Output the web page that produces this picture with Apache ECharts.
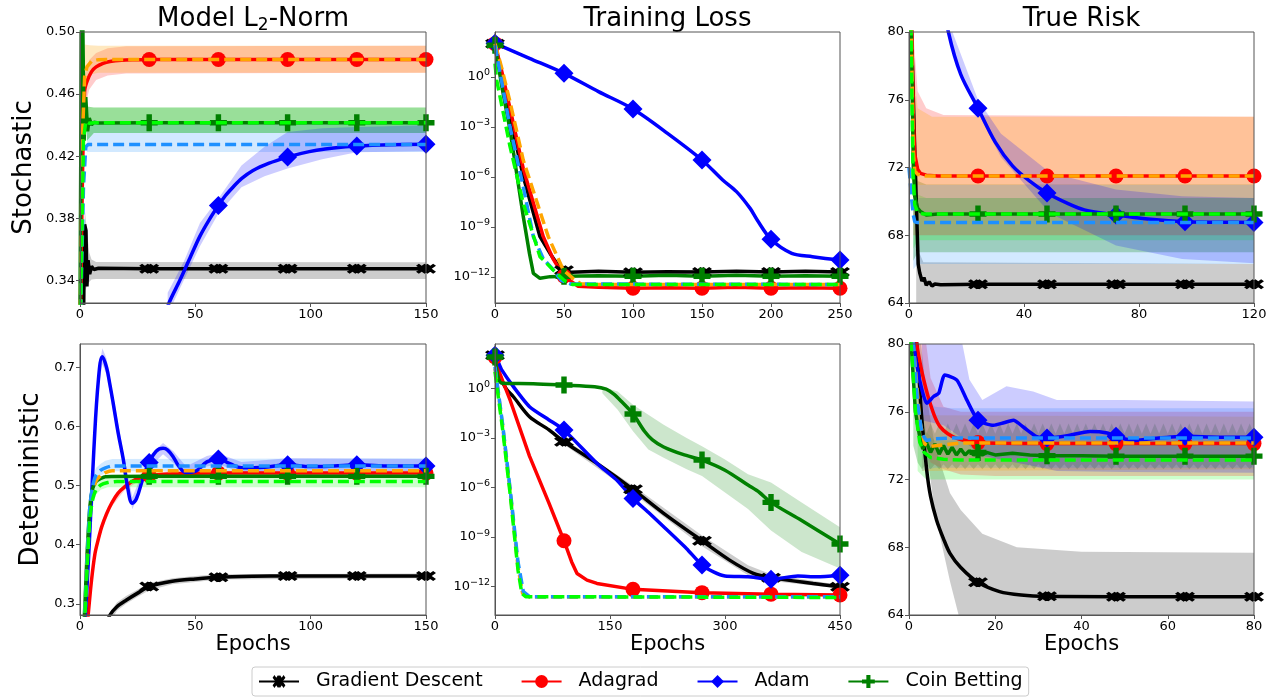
<!DOCTYPE html>
<html><head><meta charset="utf-8">
<script src="https://cdn.jsdelivr.net/npm/echarts@6/dist/echarts.min.js"></script>
<style>html,body{margin:0;padding:0;background:#fff}#c{width:1278px;height:700px}</style>
</head><body><div id="c"></div><script>
// ---------- tick labels / marker epochs ----------
const normTicksS = [0.34, 0.38, 0.42, 0.46, 0.50];
const normTicksD = [0.3, 0.4, 0.5, 0.6, 0.7];
const lossTicks = [1e-12, 1e-9, 1e-6, 1e-3, 1];
const marksNormS = [30, 60, 90, 120, 150];
const marksLossS = [0, 50, 100, 150, 200, 250];
const marksRiskS = [24, 48, 72, 96, 120];
const marksNormD = [30, 60, 90, 120, 150];
const marksLossD = [0, 90, 180, 270, 360, 450];
const marksRiskD = [16, 32, 48, 64, 80];

// ---------- Model L2-norm, stochastic ----------
const normS_GD = [[0,0.30],[1.5,0.31],[2,0.376],[2.6,0.372],[3,0.336],[3.5,0.353],[4.2,0.344],[5,0.349],[6,0.347],[8,0.3478],[30,0.3475],[60,0.3475],[90,0.3475],[120,0.3475],[150,0.3475]];
const normS_Ada = [[0,0.30],[1,0.40],[2,0.462],[3,0.468],[5,0.4745],[7,0.4775],[10,0.4798],[13,0.481],[18,0.4818],[24,0.4821],[30,0.4823],[60,0.4823],[90,0.4823],[120,0.4823],[150,0.4823]];
const normS_Adam = [[30,0.29],[38.6,0.3254],[43.3,0.340],[48,0.3555],[52,0.3685],[56,0.3790],[60,0.3882],[63,0.3945],[66.3,0.4000],[70,0.4055],[75,0.4108],[82,0.4155],[90,0.4194],[96,0.4218],[102.6,0.4238],[110,0.4253],[120,0.4265],[135,0.4273],[150,0.4276]];
const normS_Coin = [[0,0.32],[0.8,0.56],[1.8,0.43],[2.5,0.458],[3.3,0.436],[4,0.4445],[5,0.4402],[6,0.4418],[8,0.4414],[30,0.4415],[60,0.4415],[90,0.4415],[120,0.4415],[150,0.4415]];
const normS_AdaD = [[0,0.30],[1,0.43],[2,0.471],[3,0.4775],[5,0.4812],[8,0.4822],[12,0.4823],[150,0.4823]];
const normS_AdamD = [[0,0.30],[1.5,0.40],[2.5,0.426],[3.5,0.4275],[150,0.4275]];
const normS_CoinD = [[0,0.30],[0.7,0.36],[1.5,0.43],[2.5,0.4425],[4,0.4412],[6,0.4415],[150,0.4415]];
const normS_GD_band = [[2,0.333,0.387],[3,0.336,0.372],[4,0.339,0.358],[5,0.3405,0.3535],[7,0.3409,0.3518],[150,0.3409,0.3516]];
const normS_Ada_band = [[2,0.450,0.472],[4,0.463,0.482],[7,0.469,0.4865],[12,0.472,0.4895],[20,0.4733,0.4908],[150,0.4737,0.4911]];
const normS_AdaD_band = [[2,0.460,0.492],[4,0.4725,0.4915],[8,0.4737,0.4911],[150,0.4737,0.4911]];
const normS_Coin_band = [[3,0.430,0.452],[6,0.4349,0.4513],[150,0.4349,0.4513]];
const normS_CoinD_band = [[3,0.430,0.452],[6,0.4349,0.4513],[150,0.4349,0.4513]];
const normS_AdamD_band = [[3,0.4227,0.4414],[150,0.4227,0.4414]];
const normS_Adam_band = [[38,0.318,0.332],[45,0.340,0.352],[52,0.362,0.377],[60,0.383,0.3927],[70,0.400,0.414],[80,0.407,0.426],[90,0.412,0.4356],[105,0.418,0.438],[120,0.4225,0.4388],[150,0.4232,0.44]];

// ---------- Training loss, stochastic ----------
const lossS_GD = [[0,1e2],[5,1],[10.9,4.17e-3],[20.5,1.05e-6],[32.6,2.63e-10],[40,2.51e-11],[44.7,6.61e-12],[50,2.51e-12],[55,1.91e-12],[75,2.19e-12],[100,1.91e-12],[125,2.09e-12],[150,2.0e-12],[175,2.24e-12],[200,2.0e-12],[225,2.19e-12],[250,2.0e-12]];
const lossS_Ada = [[0,1e2],[5,2.0],[10.9,1.26e-2],[20.5,3.16e-6],[35,2.63e-10],[42,1.26e-11],[47,2.63e-12],[50,1.12e-12],[60,2.82e-13],[75,2.40e-13],[100,2.09e-13],[125,2.29e-13],[150,2.09e-13],[175,2.40e-13],[200,2.09e-13],[225,2.29e-13],[250,2.09e-13]];
const lossS_Adam = [[0,1.05e2],[25,1.32e1],[50,1.66],[75,1.32e-1],[100,1.20e-2],[125,4.17e-4],[150,1.05e-5],[165,6.61e-7],[175,1.32e-7],[185,1.26e-8],[190,2.63e-9],[200,1.82e-10],[215,2.63e-11],[230,1.66e-11],[250,1.05e-11]];
const lossS_Coin = [[0,7.94e1],[5,2.51e-1],[10.9,6.61e-4],[20.5,4.17e-9],[25,2.51e-11],[27.8,1.66e-12],[32.6,8.32e-13],[40,1.05e-12],[50,1.12e-12],[75,1.20e-12],[100,1.12e-12],[125,1.26e-12],[150,1.12e-12],[175,1.26e-12],[200,1.12e-12],[225,1.20e-12],[250,1.12e-12]];
const lossS_AdaD = [[0,1e2],[5,3.16],[10.9,3.16e-2],[20.5,1e-5],[38.6,2.63e-10],[49.5,2.63e-12],[56.7,7.94e-13],[62,3.98e-13],[70,3.55e-13],[250,3.55e-13]];
const lossS_AdamD = [[0,7.94e1],[10.9,1e-3],[20.5,2.51e-7],[27.8,2.63e-10],[35,1.26e-11],[42.3,2.63e-12],[48,6.31e-13],[55,3.80e-13],[250,3.55e-13]];
const lossS_CoinD = [[0,6.31],[1.2,6.61e-1],[10.9,6.61e-5],[20.5,2.63e-8],[32.6,1.66e-11],[44.7,1.66e-12],[50,6.31e-13],[56,3.55e-13],[250,3.55e-13]];

// ---------- True risk, stochastic ----------
const riskS_GD = [[0,88],[0.9,80],[2,73],[3.2,66.3],[3.7,65.8],[4.5,65.3],[5.2,65.5],[6,65.05],[7,65.25],[8,65.0],[9,65.12],[11,65.08],[24,65.1],[48,65.1],[72,65.1],[96,65.1],[120,65.1]];
const riskS_Ada = [[0,95],[1,80],[1.5,75],[2,72.8],[3,71.9],[4,71.65],[6,71.55],[10,71.5],[24,71.5],[48,71.5],[72,71.5],[96,71.5],[120,71.5]];
const riskS_Adam = [[0,100],[5,90],[10,83.5],[13.7,80],[18,77.5],[24,75.5],[30,73.5],[36,72.1],[42,71.2],[48,70.5],[55,69.9],[61,69.5],[72,69.2],[84,68.95],[96,68.8],[108,68.77],[120,68.75]];
const riskS_Coin = [[0,90],[0.8,80],[1.5,72],[2,70.3],[3,69.6],[4,69.4],[6,69.2],[10,69.25],[24,69.25],[48,69.25],[72,69.25],[96,69.25],[120,69.25]];
const riskS_AdaD = [[0,90],[0.8,80],[1.5,73],[2,71.8],[3,71.6],[6,71.5],[120,71.5]];
const riskS_AdamD = [[0,72],[1,70],[1.5,69.2],[2,68.8],[3,68.75],[120,68.75]];
const riskS_CoinD = [[0,88],[0.7,80],[1.4,71.5],[2,69.8],[3,69.35],[5,69.25],[120,69.25]];
const riskS_GD_band = [[2.5,62.5,70],[3.5,63.5,67.0],[5,63.9,66.4],[120,63.9,66.3]];
const riskS_Ada_band = [[1.5,68,80],[3,68,76.5],[6,68,75.5],[12,68,75.1],[120,68,75.0]];
const riskS_AdaD_band = [[1.5,70.5,78],[3,70.97,75.5],[8,70.97,75.0],[120,70.97,75.0]];
const riskS_Coin_band = [[1.5,66.5,72.5],[3,67,71.2],[6,67,71.0],[120,67,71.0]];
const riskS_CoinD_band = [[1.5,67.2,71.5],[3,67.7,70.4],[6,67.7,70.2],[120,67.7,70.2]];
const riskS_AdamD_band = [[1.5,66.0,70.5],[3,66.3,70.2],[120,66.3,70.2]];
const riskS_Adam_band = [[14,79.5,80.5],[24,75.2,76.0],[32,72.6,74.0],[49,69.3,71.7],[72,67.4,70.7],[95,66.6,70.3],[120,66.35,70.2]];

// ---------- Model L2-norm, deterministic ----------
const normD_GD = [[0,0.0],[10,0.25],[13,0.281],[16,0.295],[20,0.306],[25,0.318],[30,0.329],[40,0.338],[50,0.342],[60,0.345],[75,0.3465],[90,0.347],[120,0.347],[150,0.347]];
const normD_Ada = [[0,0.1],[2,0.22],[3.6,0.284],[5,0.34],[6.5,0.385],[8,0.41],[9.4,0.43],[11.5,0.452],[13.7,0.47],[16.5,0.487],[19.5,0.498],[23,0.508],[26.7,0.514],[30,0.517],[40,0.52],[60,0.521],[90,0.521],[120,0.521],[150,0.521]];
const normD_Adam = [[0,0.15],[2,0.26],[4,0.40],[6,0.56],[8,0.68],[9.7,0.718],[11.5,0.70],[13,0.67],[14.4,0.639],[16.5,0.59],[18.8,0.5435],[20.5,0.50],[22.7,0.47],[24.5,0.478],[27.5,0.515],[30,0.539],[33,0.558],[36,0.563],[38,0.56],[40.5,0.548],[43,0.532],[46,0.522],[50,0.524],[55,0.54],[60,0.545],[65,0.537],[70,0.53],[80,0.531],[90,0.535],[100,0.532],[110,0.533],[120,0.535],[135,0.533],[150,0.533]];
const normD_Coin = [[0,0.15],[1.5,0.25],[2.2,0.305],[3,0.38],[4.3,0.465],[5.5,0.495],[7,0.507],[9,0.512],[11,0.515],[30,0.5155],[60,0.5155],[90,0.5155],[120,0.5155],[150,0.5155]];
const normD_AdaD = [[0,0.15],[1.5,0.24],[2.2,0.295],[3,0.365],[4.3,0.458],[5.5,0.49],[7,0.508],[9,0.517],[11,0.522],[14,0.525],[150,0.525]];
const normD_AdamD = [[0,0.15],[1.5,0.24],[2.2,0.295],[3,0.37],[4.3,0.465],[5.5,0.5],[7,0.518],[9,0.526],[11,0.53],[14,0.533],[150,0.533]];
const normD_CoinD = [[0,0.15],[1.5,0.23],[2.2,0.285],[3,0.355],[4.3,0.445],[5.5,0.477],[7,0.493],[9,0.501],[12,0.505],[16,0.507],[150,0.507]];
const normD_GD_band = [[12,0.262,0.28],[16,0.288,0.302],[20,0.30,0.313],[25,0.312,0.324],[30,0.323,0.335],[40,0.333,0.343],[50,0.337,0.347],[60,0.341,0.35],[150,0.343,0.351]];
const normD_Ada_band = [[3.6,0.278,0.29],[6.5,0.378,0.392],[9.4,0.423,0.437],[13.7,0.464,0.476],[19.5,0.493,0.503],[26.7,0.51,0.518],[40,0.515,0.525],[150,0.516,0.526]];
const normD_Adam_band = [[2,0.25,0.27],[4,0.385,0.415],[6,0.545,0.575],[8,0.665,0.695],[9.7,0.705,0.732],[11.5,0.688,0.715],[14.4,0.625,0.652],[18.8,0.532,0.556],[22.7,0.46,0.48],[27.5,0.505,0.525],[30,0.53,0.55],[36,0.553,0.572],[40.5,0.538,0.558],[46,0.514,0.532],[55,0.532,0.55],[60,0.536,0.554],[70,0.522,0.54],[90,0.526,0.546],[150,0.525,0.545]];
const normD_AdamD_band = [[3,0.35,0.40],[4.3,0.45,0.48],[5.5,0.49,0.515],[7,0.508,0.53],[9,0.517,0.537],[11,0.522,0.542],[14,0.524,0.545],[150,0.524,0.546]];
const normD_CoinD_band = [[3,0.33,0.38],[4.3,0.43,0.46],[5.5,0.465,0.49],[7,0.485,0.503],[9,0.493,0.51],[12,0.497,0.513],[150,0.497,0.515]];

// ---------- Training loss, deterministic ----------
const lossD_GD = [[0,1e2],[3,1.58e1],[6.5,5.01],[15,8.91e-1],[24,3.09e-1],[45,1.91e-2],[70,3.16e-3],[90,5.89e-4],[133,2.88e-5],[180,7.76e-7],[220,2.75e-8],[270,6.03e-10],[306,4.07e-11],[337,6.46e-12],[360,3.55e-12],[415,1.58e-12],[450,1e-12]];
const lossD_Ada = [[0,7.94e1],[3,2.0e1],[10,2.82],[20,1.78e-1],[45,7.94e-5],[70,1.26e-7],[90,6.03e-10],[100,3.16e-11],[107,6.31e-12],[120,2.51e-12],[133,1.58e-12],[180,6.92e-13],[270,4.37e-13],[360,3.55e-13],[450,3.16e-13]];
const lossD_Adam = [[0,1e2],[5,3.16e1],[9,1.26e1],[24,1.26],[45,7.76e-2],[70,1.26e-2],[90,3.02e-3],[133,2.88e-5],[160,2.51e-6],[180,2.19e-7],[200,3.16e-8],[220,4.27e-9],[250,2.0e-10],[270,2.04e-11],[285,7.94e-12],[300,4.47e-12],[330,3.98e-12],[360,2.82e-12],[395,4.47e-12],[420,3.98e-12],[450,5.01e-12]];
const lossD_Coin = [[0,7.94e1],[5,3.16],[10,2.0],[50,1.91],[90,1.58],[130,1.26],[145,8.91e-1],[155,4.47e-1],[165,1.58e-1],[180,2.82e-2],[195,2.51e-3],[205,7.94e-4],[220,2.82e-4],[245,1e-4],[270,4.57e-5],[300,1.12e-5],[330,1.41e-6],[345,5.01e-7],[360,1.26e-7],[400,1e-8],[450,3.80e-10]];
const lossD_AdaD = [[0,1.58e1],[10,5.01e-3],[20,5.01e-7],[30,1.58e-11],[36,3.98e-13],[45,2.40e-13],[450,2.40e-13]];
const lossD_AdamD = [[0,2.0e1],[10,6.31e-3],[20,6.31e-7],[30,3.16e-11],[37,5.01e-13],[45,2.51e-13],[450,2.51e-13]];
const lossD_CoinD = [[0,1e1],[10,3.16e-3],[20,3.16e-7],[30,1e-11],[35,3.98e-13],[40,2.51e-13],[450,2.24e-13]];
const lossD_GD_band = [[90,3.98e-4,8.91e-4],[180,4.47e-7,1.26e-6],[270,2.82e-10,1.26e-9],[330,5.01e-12,2.0e-11],[360,2.24e-12,5.62e-12],[450,7.94e-13,1.26e-12]];
const lossD_Coin_band = [[140,5.01e-1,1.26],[160,5.01e-2,6.31e-1],[180,2.51e-3,1.0e-1],[200,2.0e-4,2.51e-2],[220,6.31e-5,6.31e-3],[250,1.26e-5,1.0e-3],[270,5.01e-6,3.16e-4],[300,5.01e-7,5.01e-5],[330,5.01e-8,6.31e-6],[360,2.51e-9,2.0e-6],[400,1.26e-10,1.26e-7],[450,1.26e-11,3.98e-9]];

// ---------- True risk, deterministic ----------
const riskD_GD = [[0,86],[1,83],[1.8,80],[3,75.5],[4.1,72.56],[5,71.0],[6.4,69.6],[8,68.5],[9.5,67.64],[12,66.8],[16,65.93],[21,65.38],[26,65.18],[32,65.1],[48,65.08],[64,65.08],[80,65.08]];
const riskD_Ada = [[0,84],[1,82],[1.8,80],[2.9,78.47],[4,77.3],[4.9,76.5],[6,75.7],[7.2,75.12],[9,74.7],[11.1,74.43],[14,74.25],[16,74.18],[20,74.14],[32,74.12],[48,74.12],[64,74.12],[80,74.12]];
const riskD_Adam = [[0,88],[1.1,80],[2,78.5],[3,77.3],[4.1,76.5],[5.7,76.9],[6.9,77.1],[8.3,78.17],[11.1,77.87],[13.4,76.7],[16,75.5],[19.6,75.2],[22,75.35],[24.2,75.5],[26.5,75.1],[29.6,74.53],[32,74.45],[36,74.55],[42,74.83],[46,74.75],[48,74.55],[52,74.3],[56,74.4],[64,74.55],[72,74.5],[80,74.5]];
const riskD_Coin = [[0,84],[0.5,80],[1.5,76],[2.5,74.5],[3.2,73.8],[4,74.2],[5,73.6],[6,74.1],[7,73.5],[8,74.0],[9,73.5],[10,73.9],[11,73.45],[12,73.8],[13,73.45],[14,73.7],[15,73.45],[16,73.6],[17,73.45],[18,73.6],[20,73.45],[24,73.55],[28,73.45],[32,73.4],[40,73.4],[48,73.38],[64,73.38],[80,73.38]];
const riskD_AdaD = [[0,84],[1,80],[2,77],[2.5,75.5],[3.6,74.1],[5,73.95],[8,74.05],[12,74.15],[80,74.15]];
const riskD_AdamD = [[0,84],[1,80],[2,76.5],[3,74.7],[4,74.3],[6,74.4],[10,74.45],[80,74.45]];
const riskD_CoinD = [[0,84],[0.5,80],[1.5,76],[2.5,74.2],[3.5,73.6],[5,73.3],[8,73.2],[12,73.15],[80,73.15]];
const riskD_GD_band = [[2,80,82],[4,74,77],[6,70,74],[9.5,66,71.2],[12,63.5,70.2],[17,62.5,68.8],[25,62.4,68.0],[40,62.4,67.74],[80,62.4,67.68]];
const riskD_Adam_band = [[3,75.5,80.5],[8,75.2,80.5],[12,74.5,80.5],[14,74.0,77.9],[17,73.4,76.7],[22.6,73.1,77.5],[28.8,72.8,77.2],[34.3,72.5,76.7],[50,72.45,76.7],[80,72.4,76.6]];
const riskD_AdamD_band = [[3,72.5,77],[6,72.7,76.3],[10,72.7,76.2],[80,72.7,76.2]];
const riskD_Ada_band = [[2,75,84],[5,73,78],[8,72.6,76.3],[12,72.3,76.0],[20,72.2,76.0],[80,72.2,76.0]];
const riskD_AdaD_band = [[3,72.5,75.8],[80,72.6,75.7]];
const riskD_Coin_band = [[1,74,82],[2,73,77],[3,72.6,75.3],[4,72.9,74.7],[5,72.6,75.3],[6,72.9,74.7],[7,72.6,75.3],[8,72.9,74.7],[9,72.6,75.3],[10,72.9,74.7],[11,72.6,75.3],[12,72.9,74.7],[13,72.6,75.3],[14,72.9,74.7],[15,72.6,75.3],[16,72.9,74.7],[17,72.6,75.3],[18,72.9,74.7],[19,72.6,75.3],[20,72.9,74.7],[21,72.6,75.3],[22,72.9,74.7],[23,72.6,75.3],[24,72.9,74.7],[25,72.6,75.3],[26,72.9,74.7],[27,72.6,75.3],[28,72.9,74.7],[29,72.6,75.3],[30,72.9,74.7],[31,72.6,75.3],[32,72.9,74.7],[33,72.6,75.3],[34,72.9,74.7],[35,72.6,75.3],[36,72.9,74.7],[37,72.6,75.3],[38,72.9,74.7],[39,72.6,75.3],[40,72.9,74.7],[41,72.6,75.3],[42,72.9,74.7],[43,72.6,75.3],[44,72.9,74.7],[45,72.6,75.3],[46,72.9,74.7],[47,72.6,75.3],[48,72.9,74.7],[49,72.6,75.3],[50,72.9,74.7],[51,72.6,75.3],[52,72.9,74.7],[53,72.6,75.3],[54,72.9,74.7],[55,72.6,75.3],[56,72.9,74.7],[57,72.6,75.3],[58,72.9,74.7],[59,72.6,75.3],[60,72.9,74.7],[61,72.6,75.3],[62,72.9,74.7],[63,72.6,75.3],[64,72.9,74.7],[65,72.6,75.3],[66,72.9,74.7],[67,72.6,75.3],[68,72.9,74.7],[69,72.6,75.3],[70,72.9,74.7],[71,72.6,75.3],[72,72.9,74.7],[73,72.6,75.3],[74,72.9,74.7],[75,72.6,75.3],[76,72.9,74.7],[77,72.6,75.3],[78,72.9,74.7],[79,72.6,75.3],[80,72.9,74.7]];
const riskD_CoinD_band = [[2,72.5,78],[4,72.0,74.8],[6,72.0,74.3],[80,72.0,74.3]];

// ---------- styling ----------
const FONT = 'DejaVu Sans';
const AX = '#555';
const LW = 3.5;
const C = {gd:'#000000', ada:'#ff0000', adam:'#0000ff', coin:'#008000', adaD:'#ffa500', adamD:'#1e90ff', coinD:'#00ff00'};
const B = {gd:'rgba(0,0,0,0.2)', ada:'rgba(255,0,0,0.2)', adam:'rgba(0,0,255,0.2)', coin:'rgba(0,128,0,0.25)', adaD:'rgba(255,165,0,0.25)', adamD:'rgba(30,144,255,0.2)', coinD:'rgba(0,255,0,0.2)'};
const X2 = 'path://M0,2 L2,0 L5,3 L8,0 L10,2 L7,5 L10,8 L8,10 L5,7 L2,10 L0,8 L3,5 Z M4,2 L6,0 L9,3 L12,0 L14,2 L11,5 L14,8 L12,10 L9,7 L6,10 L4,8 L7,5 Z';
const PLUS = 'path://M3.4,0 L6.6,0 L6.6,3.4 L10,3.4 L10,6.6 L6.6,6.6 L6.6,10 L3.4,10 L3.4,6.6 L0,6.6 L0,3.4 L3.4,3.4 Z';

const GRIDS = [
  {left:80, top:32, width:346, height:271},
  {left:495, top:32, width:345, height:271},
  {left:909, top:32, width:345, height:271},
  {left:80, top:344, width:346, height:271},
  {left:495, top:344, width:345, height:271},
  {left:909, top:344, width:345, height:271}
];

function logLabel(v){ const e = Math.round(Math.log10(v)); return '{b|10}{s|' + String(e).replace('-', '\u2212') + '}'; }
const logRich = {b:{fontSize:13, lineHeight:18, verticalAlign:'middle', fontFamily:FONT, color:'#000'},
                 s:{fontSize:9.5, lineHeight:6, verticalAlign:'top', fontFamily:FONT, color:'#000'}};

const axLine = {show:true, onZero:false, lineStyle:{color:AX, width:1}};
const axTick = {show:true, length:4, inside:false, lineStyle:{color:AX, width:1}};
const axLabel = {color:'#000', fontSize:13, fontFamily:FONT, margin:5};

function xAx(gi, max, interval, name){
  return {type:'value', gridIndex:gi, min:0, max:max, interval:interval, name:name||'', nameLocation:'middle', nameGap:19,
    nameTextStyle:{fontSize:21, color:'#000', fontFamily:FONT},
    axisLine:axLine, axisTick:axTick, axisLabel:axLabel, splitLine:{show:false}, z:10};
}
function yAx(gi, o){
  const a = {type:o.log?'log':'value', gridIndex:gi, min:o.min, max:o.max, name:o.name||'', nameLocation:'middle', nameGap:o.gap||40,
    nameTextStyle:{fontSize:26, color:'#000', fontFamily:FONT},
    axisLine:axLine, axisTick:Object.assign({}, axTick), axisLabel:Object.assign({}, axLabel), splitLine:{show:false}, minorTick:{show:false}, z:10};
  if (o.log){ a.logBase = 10; a.axisLabel.rich = logRich; }
  if (o.interval) a.interval = o.interval;
  if (o.ticks){ a.axisLabel.customValues = o.ticks; a.axisTick.customValues = o.ticks; }
  if (o.fmt) a.axisLabel.formatter = o.fmt;
  return a;
}

const series = [];
function addBand(gi, band, color){
  series.push({type:'custom', xAxisIndex:gi, yAxisIndex:gi, data:band, clip:true, silent:true, z:1,
    encode:{x:0, y:[1,2]},
    renderItem:function(params, api){
      if (params.dataIndex !== 0) return;
      const top = band.map(p => api.coord([p[0], p[2]]));
      const bot = band.map(p => api.coord([p[0], p[1]])).reverse();
      return {type:'polygon', shape:{points:top.concat(bot)}, style:{fill:color}, silent:true};
    }});
}
function addLine(gi, name, data, color, o){
  const marks = o.marks || [];
  const size = o.size || 0;
  series.push({type:'line', name:name, xAxisIndex:gi, yAxisIndex:gi, data:data, z:o.z||2,
    lineStyle:{color:color, width:LW, type:o.dash?[11,5]:'solid'}, itemStyle:{color:color},
    symbol:o.symbol||'none', showSymbol:!!o.symbol, symbolKeepAspect:true,
    symbolSize:function(v){ return marks.indexOf(v[0]) >= 0 ? size : 0; },
    smooth:o.smooth||false, clip:true, silent:true, animation:false});
}
function addPanel(gi, d){
  (d.bands||[]).forEach(b => addBand(gi, b[0], b[1]));
  const s = d.smooth || {};
  addLine(gi, 'Gradient Descent', d.gd, C.gd, {symbol:X2, size:[20,14], marks:d.marks, smooth:s.gd});
  addLine(gi, 'Adagrad', d.ada, C.ada, {symbol:'circle', size:15, marks:d.marks, smooth:s.ada});
  addLine(gi, 'Adam', d.adam, C.adam, {symbol:'diamond', size:19, marks:d.marks, smooth:s.adam});
  addLine(gi, 'Coin Betting', d.coin, C.coin, {symbol:PLUS, size:17, marks:d.marks, smooth:s.coin});
  addLine(gi, 'Adagrad variant', d.adaD, C.adaD, {dash:true, z:3, smooth:s.dash});
  addLine(gi, 'Adam variant', d.adamD, C.adamD, {dash:true, z:3, smooth:s.dash});
  addLine(gi, 'Coin Betting variant', d.coinD, C.coinD, {dash:true, z:3, smooth:s.dash});
}

addPanel(0, {gd:normS_GD, ada:normS_Ada, adam:normS_Adam, coin:normS_Coin, adaD:normS_AdaD, adamD:normS_AdamD, coinD:normS_CoinD, marks:marksNormS,
  smooth:{ada:0.3, adam:0.3},
  bands:[[normS_GD_band,B.gd],[normS_AdamD_band,B.adamD],[normS_CoinD_band,B.coinD],[normS_Coin_band,B.coin],[normS_Ada_band,B.ada],[normS_AdaD_band,B.adaD],[normS_Adam_band,B.adam]]});
addPanel(1, {gd:lossS_GD, ada:lossS_Ada, adam:lossS_Adam, coin:lossS_Coin, adaD:lossS_AdaD, adamD:lossS_AdamD, coinD:lossS_CoinD, marks:marksLossS,
  smooth:{adam:0.3}, bands:[]});
addPanel(2, {gd:riskS_GD, ada:riskS_Ada, adam:riskS_Adam, coin:riskS_Coin, adaD:riskS_AdaD, adamD:riskS_AdamD, coinD:riskS_CoinD, marks:marksRiskS,
  smooth:{adam:0.3},
  bands:[[riskS_GD_band,B.gd],[riskS_AdamD_band,B.adamD],[riskS_Coin_band,B.coin],[riskS_CoinD_band,B.coinD],[riskS_Ada_band,B.ada],[riskS_AdaD_band,B.adaD],[riskS_Adam_band,B.adam]]});
addPanel(3, {gd:normD_GD, ada:normD_Ada, adam:normD_Adam, coin:normD_Coin, adaD:normD_AdaD, adamD:normD_AdamD, coinD:normD_CoinD, marks:marksNormD,
  smooth:{gd:0.3, ada:0.3, adam:0.4, coin:0.2, dash:0.2},
  bands:[[normD_GD_band,B.gd],[normD_CoinD_band,B.coinD],[normD_Ada_band,B.ada],[normD_AdamD_band,B.adamD],[normD_Adam_band,B.adam]]});
addPanel(4, {gd:lossD_GD, ada:lossD_Ada, adam:lossD_Adam, coin:lossD_Coin, adaD:lossD_AdaD, adamD:lossD_AdamD, coinD:lossD_CoinD, marks:marksLossD,
  smooth:{gd:0.3, adam:0.2, coin:0.3},
  bands:[[lossD_GD_band,B.gd],[lossD_Coin_band,'rgba(0,128,0,0.2)']]});
addPanel(5, {gd:riskD_GD, ada:riskD_Ada, adam:riskD_Adam, coin:riskD_Coin, adaD:riskD_AdaD, adamD:riskD_AdamD, coinD:riskD_CoinD, marks:marksRiskD,
  smooth:{gd:0.3, ada:0.3, adam:0.2},
  bands:[[riskD_GD_band,B.gd],[riskD_CoinD_band,B.coinD],[riskD_Coin_band,B.coin],[riskD_Ada_band,B.ada],[riskD_AdaD_band,B.adaD],[riskD_AdamD_band,B.adamD],[riskD_Adam_band,B.adam]]});

const titleStyle = {fontSize:26, fontFamily:FONT, fill:'#000', align:'center', verticalAlign:'middle', textAlign:'center', textVerticalAlign:'middle'};
const option = {
  animation:false,
  backgroundColor:'#fff',
  textStyle:{fontFamily:FONT},
  grid: GRIDS.map(g => Object.assign({show:true, borderColor:AX, borderWidth:1, backgroundColor:'transparent', containLabel:false, outerBoundsMode:'none', z:10}, g)),
  xAxis:[xAx(0,150,50), xAx(1,250,50), xAx(2,120,40), xAx(3,150,50,'Epochs'), xAx(4,450,150,'Epochs'), xAx(5,80,20,'Epochs')],
  yAxis:[
    yAx(0,{min:0.3254, max:0.5, ticks:normTicksS, fmt:v=>v.toFixed(2), name:'Stochastic', gap:43}),
    yAx(1,{log:true, min:2.75e-14, max:5.01e2, ticks:lossTicks, fmt:logLabel}),
    yAx(2,{min:64, max:80, interval:4}),
    yAx(3,{min:0.281, max:0.7394, ticks:normTicksD, fmt:v=>v.toFixed(1), name:'Deterministic', gap:36}),
    yAx(4,{log:true, min:1.95e-14, max:4.79e2, ticks:lossTicks, fmt:logLabel}),
    yAx(5,{min:64, max:80, interval:4})
  ],
  legend:{data:['Gradient Descent','Adagrad','Adam','Coin Betting'], left:252, top:667, orient:'horizontal',
    itemWidth:40, itemHeight:16, itemGap:38, padding:[5,6,5,6], borderColor:'#ccc', borderWidth:1, borderRadius:3,
    backgroundColor:'#fff', selectedMode:false,
    textStyle:{fontSize:19, color:'#000', fontFamily:FONT, padding:[0,0,0,12]}},
  graphic:[
    {type:'text', x:253, y:19, style:Object.assign({}, titleStyle, {text:'{a|Model L}{s|2}{a|-Norm}',
      rich:{a:{fontSize:26, lineHeight:30, fontFamily:FONT, fill:'#000', verticalAlign:'middle'},
            s:{fontSize:17, lineHeight:14, fontFamily:FONT, fill:'#000', verticalAlign:'bottom'}}})},
    {type:'text', x:667.5, y:19, style:Object.assign({}, titleStyle, {text:'Training Loss'})},
    {type:'text', x:1081.5, y:19, style:Object.assign({}, titleStyle, {text:'True Risk'})}
  ],
  series:series
};
const chart = echarts.init(document.getElementById('c'));
chart.setOption(option);
</script></body></html>
